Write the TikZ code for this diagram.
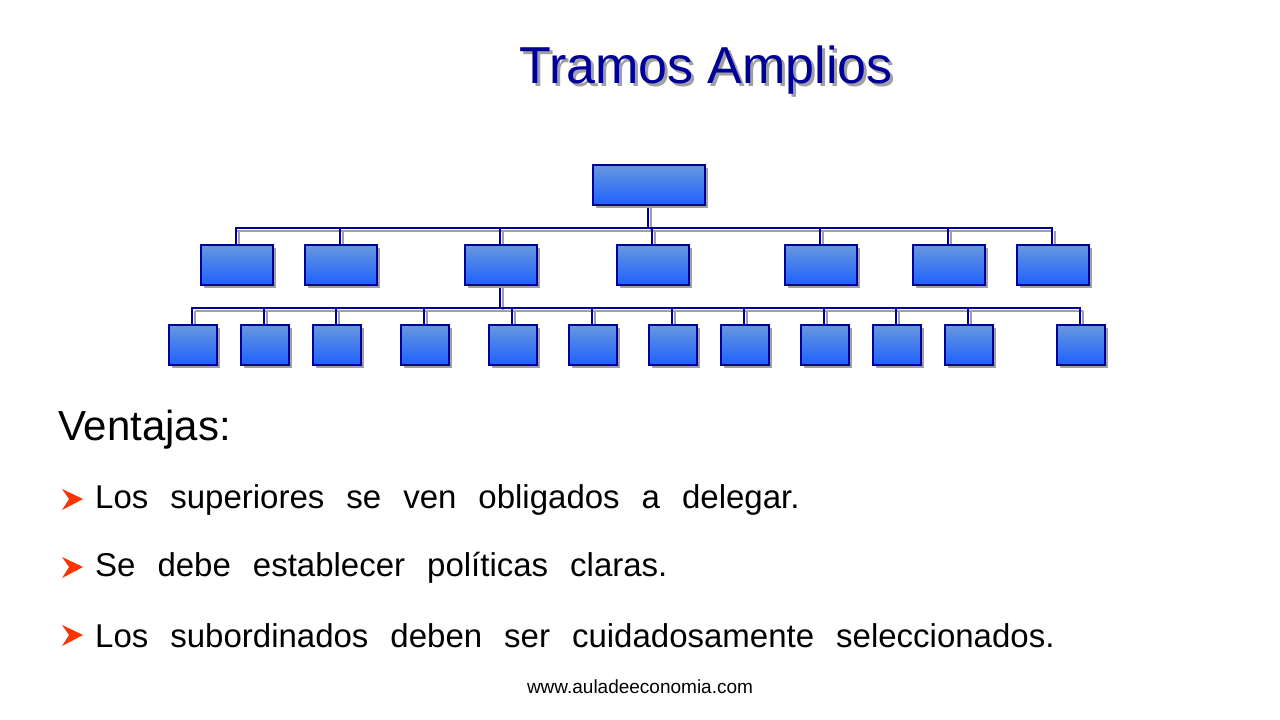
\documentclass[tikz,border=0pt]{standalone}
\usepackage{fontspec}
\setmainfont{Liberation Sans}
\usetikzlibrary{shadows}
\definecolor{navy}{HTML}{000099}
\definecolor{btop}{HTML}{6699DD}
\definecolor{bbot}{HTML}{1F5FFF}
\definecolor{shd}{HTML}{A0A0A0}
\definecolor{arr}{HTML}{FF3300}
\newcommand{\widesp}[1]{{\spaceskip=22pt\relax #1}}
\tikzset{
  orgbox/.style={draw=navy, line width=2pt, top color=btop, bottom color=bbot, inner sep=0pt, anchor=north west,
     drop shadow={shadow xshift=3pt, shadow yshift=-3pt, fill=shd, opacity=1}},
  wire/.style={draw=navy, line width=2pt},
  wshadow/.style={draw=shd, line width=2pt},
  txt/.style={font=\fontsize{33}{33}\selectfont, anchor=west, inner sep=0pt},
  bul/.style={fill=arr}
}
\begin{document}
\begin{tikzpicture}[x=1pt,y=-1pt]
\useasboundingbox (0,0) rectangle (1280,720);
% title
\node[font=\fontsize{52}{52}\selectfont, text=shd] (titleshadow) at (709,73) {Tramos Amplios};
\node[font=\fontsize{52}{52}\selectfont, text=navy] (title) at (706,70) {Tramos Amplios};
% wires shadows
\foreach \x in {236,340,500,652,820,948,1052} \draw[wshadow] (\x+3,231) -- (\x+3,246);
\draw[wshadow] (235,231) -- (1051,231);
\draw[wshadow] (651,206) -- (651,231);
\draw[wshadow] (503,286) -- (503,311);
\draw[wshadow] (195,311) -- (1083,311);
\foreach \x in {192,264,336,424,512,592,672,744,824,896,968,1080} \draw[wshadow] (\x+3,311) -- (\x+3,326);
% wires
\draw[wire] (648,204) -- (648,228);
\draw[wire] (236,244) -- (236,228) -- (1052,228) -- (1052,244);
\foreach \x in {340,500,652,820,948} \draw[wire] (\x,228) -- (\x,244);
\draw[wire] (500,284) -- (500,308);
\draw[wire] (192,324) -- (192,308) -- (1080,308) -- (1080,324);
\foreach \x in {264,336,424,512,592,672,744,824,896,968} \draw[wire] (\x,308) -- (\x,324);
% boxes
\node[orgbox, minimum width=112pt, minimum height=40pt] (top) at (592,164) {};
\foreach \x [count=\i] in {200,304,464,616,784,912,1016}
  \node[orgbox, minimum width=72pt, minimum height=40pt] (m\i) at (\x,244) {};
\foreach \x [count=\i] in {168,240,312,400,488,568,648,720,800,872,944,1056}
  \node[orgbox, minimum width=48pt, minimum height=40pt] (s\i) at (\x,324) {};
% text
\node[font=\fontsize{42}{42}\selectfont, anchor=west, inner sep=0pt] (v) at (58,430) {Ventajas:};
\foreach \y/\t [count=\i] in {500/Los superiores se ven obligados a delegar.,568/Se debe establecer políticas claras.,636/Los subordinados deben ser cuidadosamente seleccionados.}{
  \node[txt] (b\i) at (95,\y) {\widesp{\t}};
  \fill[bul] (62,\y-11) -- (83,\y-1) -- (62,\y+10) -- (69,\y-1) -- cycle;
}
\node[font=\fontsize{19}{19}\selectfont] (foot) at (640,687) {www.auladeeconomia.com};
\end{tikzpicture}
\end{document}
